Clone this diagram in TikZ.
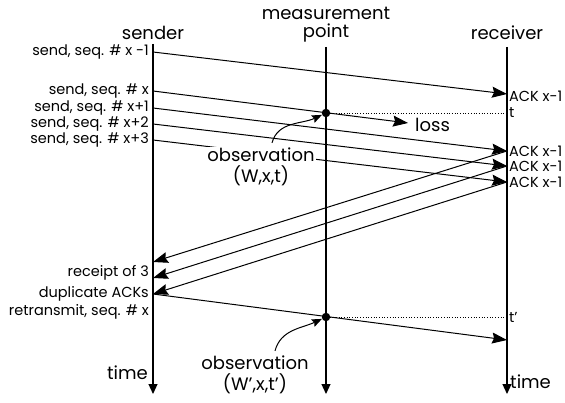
\documentclass[tikz,border=0pt]{standalone}
\usepackage{fontspec}
\setmainfont{Poppins}
\usetikzlibrary{positioning,arrows.meta}

\begin{document}
\begin{tikzpicture}[x=1pt,y=1pt,
    lifeline/.style={line width=1.2pt,-{Triangle[length=10pt,width=9pt]}},
    msg/.style={line width=1pt,-{Stealth[length=15pt,width=11pt,inset=2pt]}},
    head/.style={font=\fontsize{18}{19}\selectfont,inner sep=1pt},
    lbl/.style={font=\fontsize{14.5}{15}\selectfont,inner sep=1pt},
    dotnode/.style={circle,fill,inner sep=0pt,minimum size=8.5pt},
    obs/.style={head,fill=white},
    obsarrow/.style={line width=1pt,-{Stealth[length=10pt,width=8pt,inset=1.5pt]}},
    tick/.style={dotted,line width=0.7pt}]
\useasboundingbox (0,0) rectangle (565,402);

% Lifelines of sender, measurement point and receiver
\foreach \name/\x/\top in {snd/153/358,mp/326/355,rcv/507/355} {
    \coordinate (\name top) at (\x,\top);
    \coordinate (\name bot) at (\x,8);
    \draw[lifeline] (\name top) -- (\name bot);
}
\node[head] (hsnd) at (153,369) {sender};
\node[head] (hmp) at (326,389) {measurement};
\node[head] (hpt) at (326,369) {point};
\node[head] (hrcv) at (507,369) {receiver};

% End points of the packets on the lifelines
\foreach \i/\y in {1/350,2/311,3/294,4/278,5/262} \coordinate (s\i) at (153,\y);
\foreach \i/\y in {1/308,3/251,4/236,5/220} \coordinate (r\i) at (507,\y);
\foreach \i/\y in {3/140,4/124,5/108} \coordinate (a\i) at (153,\y);
\coordinate (lossend) at (408,279);
\coordinate (rtend) at (507,62);
\coordinate (tmark) at (507,289);
\coordinate (tpmark) at (507,85);

% Packets sent and the duplicate ACKs
\draw[msg] (s1) -- (r1);
\draw[msg] (s2) -- (lossend);
\foreach \i in {3,4,5} {
    \draw[msg] (s\i) -- (r\i);
    \draw[msg] (r\i) -- (a\i);
}
\draw[msg] (a5) -- (rtend);

% Observations at the measurement point
\node[dotnode] (dot1) at (326,289) {};
\node[dotnode] (dot2) at (326,85) {};
\draw[tick] (dot1) -- (tmark);
\draw[tick] (dot2) -- (tpmark);

\node[obs] (obs1) at (261,247) {observation};
\node[head,below=1pt of obs1] (obs1v) {(W,x,t)};
\node[obs] (obs2) at (255,39) {observation};
\node[head,below=1pt of obs2] (obs2v) {(W',x,t')};
\draw[obsarrow] ([xshift=11pt,yshift=4pt]obs1.north) to[out=75,in=205] (dot1);
\draw[obsarrow] ([xshift=20pt,yshift=4pt]obs2.north) to[out=75,in=205] (dot2);

% Labels at the sender
\node[lbl,anchor=east] (ls1) at (150,350) {send, seq. \# x -1};
\node[lbl,anchor=east] (ls2) at (150,311) {send, seq. \# x};
\node[lbl,anchor=east] (ls3) at (150,294) {send, seq. \# x+1};
\node[lbl,anchor=east] (ls4) at (150,278) {send, seq. \# x+2};
\node[lbl,anchor=east] (ls5) at (150,262) {send, seq. \# x+3};
\node[lbl,anchor=east] (lrc) at (150,129) {receipt of 3};
\node[lbl,anchor=east] (ldup) at (150,108) {duplicate ACKs};
\node[lbl,anchor=east] (lrt) at (150,90) {retransmit, seq. \# x};
\node[head,anchor=east] (ltsnd) at (149,29) {time};

% Labels at the receiver
\foreach \i/\y in {1/306,3/251,4/236,5/220} \node[lbl,anchor=west] (lr\i) at (508,\y) {ACK x-1};
\node[lbl,anchor=west] (lt) at (508,289) {t};
\node[lbl,anchor=west] (ltp) at (508,85) {t'};
\node[head,anchor=west] (ltrcv) at (509,20) {time};
\node[head,anchor=west] (lloss) at (414,277) {loss};

\end{tikzpicture}
\end{document}
